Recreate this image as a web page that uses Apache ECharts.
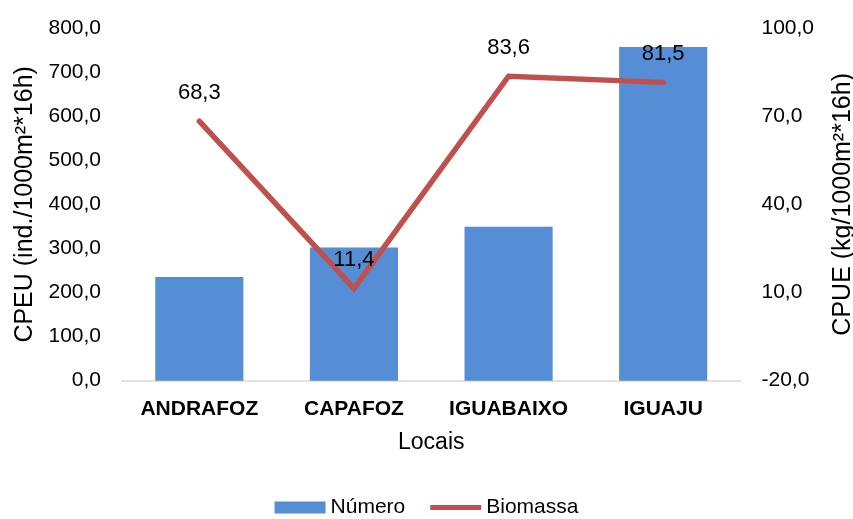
<!DOCTYPE html>
<html><head><meta charset="utf-8">
<script src="https://cdn.jsdelivr.net/npm/echarts@6/dist/echarts.min.js"></script>
<style>html,body{margin:0;padding:0;background:#fff}#c{width:853px;height:519px}</style>
</head><body><div id="c"></div>
<script>
const categories = ['ANDRAFOZ', 'CAPAFOZ', 'IGUABAIXO', 'IGUAJU'];
const numero = [235, 302, 349, 757];
const biomassa = [68.3, 11.4, 83.6, 81.5];
const leftTicks = {min: 0, max: 800, interval: 100};
const rightTicks = {min: -20, max: 100, interval: 30};
const fmt = v => Number(v).toFixed(1).replace('.', ',');
const font = 'Liberation Sans, Arial, sans-serif';
const chart = echarts.init(document.getElementById('c'));
chart.setOption({
  animation: false,
  textStyle: {fontFamily: font},
  grid: {left: 122, right: 112.5, top: 28, bottom: 138.3, outerBoundsMode: 'none', containLabel: false},
  legend: {
    top: 497, left: 'center', itemGap: 25, itemWidth: 51, itemHeight: 12, padding: 0,
    textStyle: {fontSize: 21, color: '#000', fontFamily: font},
    data: [
      {name: 'Número', icon: 'rect'},
      {name: 'Biomassa', icon: 'path://M0,0 L0,0.001 M0,3.5 L52,3.5 L52,8.5 L0,8.5 Z M52,12 L52,12.001'}
    ]
  },
  xAxis: {
    type: 'category', data: categories,
    name: 'Locais', nameLocation: 'middle', nameGap: 50,
    nameTextStyle: {fontSize: 23, color: '#000', fontFamily: font},
    axisLine: {lineStyle: {color: '#D9D9D9', width: 1.5}},
    axisTick: {show: false},
    axisLabel: {interval: 0, fontSize: 21, fontWeight: 'bold', color: '#000', margin: 18, fontFamily: font}
  },
  yAxis: [{
    type: 'value', min: leftTicks.min, max: leftTicks.max, interval: leftTicks.interval,
    name: 'CPEU (ind./1000m²*16h)', nameLocation: 'middle', nameGap: 84, nameRotate: 90,
    nameTextStyle: {fontSize: 25, color: '#000', fontFamily: font},
    splitLine: {show: false}, axisLine: {show: false}, axisTick: {show: false},
    axisLabel: {fontSize: 21, color: '#000', margin: 21, formatter: fmt, fontFamily: font}
  }, {
    type: 'value', min: rightTicks.min, max: rightTicks.max, interval: rightTicks.interval,
    name: 'CPUE (kg/1000m²*16h)', nameLocation: 'middle', nameGap: 90, nameRotate: 90,
    nameTextStyle: {fontSize: 25, color: '#000', fontFamily: font},
    splitLine: {show: false}, axisLine: {show: false}, axisTick: {show: false},
    axisLabel: {fontSize: 21, color: '#000', margin: 21, formatter: fmt, fontFamily: font}
  }],
  series: [{
    name: 'Número', type: 'bar', data: numero, barWidth: '57%',
    itemStyle: {color: '#558ED5'}
  }, {
    name: 'Biomassa', type: 'line', yAxisIndex: 1, data: biomassa,
    symbol: 'none', lineStyle: {color: '#C0504D', width: 5.5, cap: 'round', join: 'miter'},
    itemStyle: {color: '#C0504D'}
  }, {
    name: 'BiomassaLabels', type: 'scatter', yAxisIndex: 1, data: biomassa,
    symbolSize: 0, silent: true, z: 5, itemStyle: {opacity: 1},
    label: {show: true, position: 'top', distance: 17, fontSize: 22, color: '#000',
      formatter: p => fmt(p.value), fontFamily: font}
  }]
});
</script></body></html>
